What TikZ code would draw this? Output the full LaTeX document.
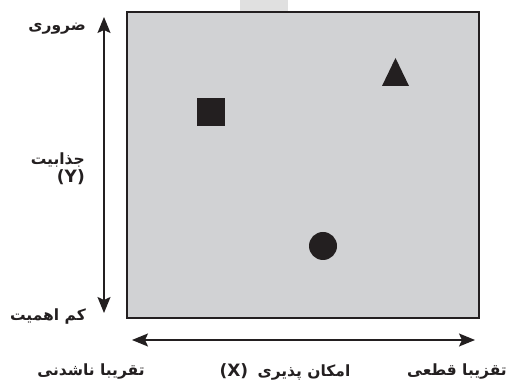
\documentclass[tikz,border=0pt]{standalone}
\usepackage{fontspec}
\setmainfont{DejaVu Sans}
\newfontfamily\arabicfont[Script=Arabic]{DejaVu Sans Bold}
\newfontfamily\latinbold{DejaVu Sans Bold}
\TeXXeTstate=1
\usetikzlibrary{arrows.meta}
\definecolor{boxgray}{HTML}{D1D2D4}
\definecolor{ink}{HTML}{231F20}
\definecolor{fade}{HTML}{E0E0E0}
\begin{document}
\begin{tikzpicture}[x=1pt,y=1pt,
  lbl/.style={font=\arabicfont\fontsize{15.5}{19}\selectfont, text=ink, inner sep=0pt},
  axisline/.style={ink, line width=1.5pt,
    {Stealth[length=16pt,width=13pt,inset=3pt]}-{Stealth[length=16pt,width=13pt,inset=3pt]}},
  marker/.style={fill=ink, inner sep=0pt, minimum size=28pt}]
\useasboundingbox (0,0) rectangle (509,385);
\fill[fade] (240,373) rectangle (288,385);
\draw[ink, line width=2.5pt, fill=boxgray] (127,67) rectangle (479,373);
% markers
\node[marker] (sq) at (211,273) {};
\node[marker, circle] (dot) at (323,139) {};
\fill[ink] (382,299) -- (409,299) -- (395.5,327) -- cycle;
% axes
\coordinate (ytop) at (104,368);
\coordinate (ybot) at (104,72);
\draw[axisline] (ybot) -- (ytop);
\coordinate (xleft) at (132,45);
\coordinate (xright) at (475,45);
\draw[axisline] (xleft) -- (xright);
% labels
\node[lbl, anchor=east] (essential) at (86,356) {\beginR ضروری\endR};
\node[lbl, anchor=east, align=right] (attract) at (85,216) {\beginR جذابیت\endR\\[-1pt]{\latinbold\fontsize{17}{19}\selectfont(Y)}\hspace{3pt}};
\node[lbl, anchor=east] (lowimp) at (86,68) {\beginR کم اهمیت\endR};
\node[lbl] (imposs) at (91,13) {\beginR تقریبا ناشدنی\endR};
\node[lbl] (feas) at (285,13) {{\latinbold\fontsize{17}{19}\selectfont(X)}\hspace{0.6em}\beginR امکان پذیری\endR};
\node[lbl] (certain) at (457,13) {\beginR تقزیبا قطعی\endR};
\end{tikzpicture}
\end{document}
